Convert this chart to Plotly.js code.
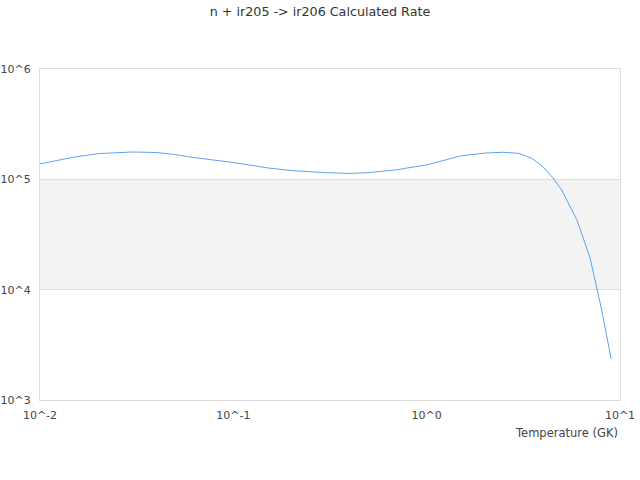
<!DOCTYPE html>
<html>
<head>
<meta charset="utf-8">
<script src="https://cdn.plot.ly/plotly-3.0.1.min.js"></script>
<style>html,body{margin:0;padding:0;background:#fff;}#chart{width:640px;height:480px;}</style>
</head>
<body>
<div id="chart"></div>
<script>
var temperatures = [0.01, 0.015, 0.02, 0.03, 0.04, 0.05, 0.06, 0.07, 0.08, 0.09, 0.1,
  0.15, 0.2, 0.3, 0.4, 0.5, 0.6, 0.7, 0.8, 0.9, 1.0,
  1.5, 2, 2.5, 3, 3.5, 4, 4.5, 5, 6, 7, 8, 9];
var rates = [1.38e5, 1.59e5, 1.71e5, 1.77e5, 1.75e5, 1.68e5, 1.59e5, 1.54e5, 1.50e5, 1.45e5, 1.42e5,
  1.27e5, 1.20e5, 1.15e5, 1.13e5, 1.15e5, 1.18e5, 1.22e5, 1.27e5, 1.31e5, 1.35e5,
  1.63e5, 1.73e5, 1.76e5, 1.72e5, 1.55e5, 1.30e5, 1.03e5, 8.0e4, 4.24e4, 1.94e4, 6.83e3, 2.36e3];
var xTickVals = [0.01, 0.1, 1, 10];
var xTickText = ["10^-2", "10^-1", "10^0", "10^1"];
var yTickVals = [1e3, 1e4, 1e5, 1e6];
var yTickText = ["10^3", "10^4", "10^5", "10^6"];

var trace = {
  x: temperatures, y: rates, type: 'scatter', mode: 'lines',
  line: {color: '#5aa2f0', width: 1}, hoverinfo: 'none'
};
var layout = {
  width: 640, height: 480,
  margin: {l: 40, r: 20, t: 69, b: 80},
  paper_bgcolor: '#fff', plot_bgcolor: '#fff',
  font: {family: 'DejaVu Sans', size: 11, color: '#444'},
  title: {text: 'n + ir205 -> ir206 Calculated Rate', x: 0.5, xanchor: 'center', y: 0.975, yanchor: 'middle',
    font: {family: 'DejaVu Sans', size: 12.7, color: '#333'}},
  showlegend: false,
  xaxis: {type: 'log', range: [-2, 1], tickvals: xTickVals, ticktext: xTickText,
    showgrid: false, zeroline: false, showline: true, linecolor: '#ddd', linewidth: 1, mirror: true,
    ticks: 'outside', ticklen: 5, tickcolor: 'rgba(0,0,0,0)', tickfont: {size: 11, color: '#444'}},
  yaxis: {type: 'log', range: [3, 6], tickvals: yTickVals, ticktext: yTickText,
    showgrid: true, gridcolor: '#ddd', gridwidth: 1, zeroline: false,
    showline: true, linecolor: '#ddd', linewidth: 1, mirror: true,
    ticks: 'outside', ticklen: 6, tickcolor: 'rgba(0,0,0,0)', tickfont: {size: 11, color: '#444'}},
  shapes: [{type: 'rect', xref: 'paper', x0: 0, x1: 1, yref: 'y', y0: 1e4, y1: 1e5,
    fillcolor: '#f3f3f3', line: {width: 0}, layer: 'below'}],
  annotations: [{text: 'Temperature (GK)', xref: 'paper', x: 1, xanchor: 'right', yref: 'paper', y: 0,
    yanchor: 'top', yshift: -24, showarrow: false, font: {size: 11.5, color: '#444'}}]
};
Plotly.newPlot('chart', [trace], layout, {displayModeBar: false, staticPlot: true});
</script>
</body>
</html>
